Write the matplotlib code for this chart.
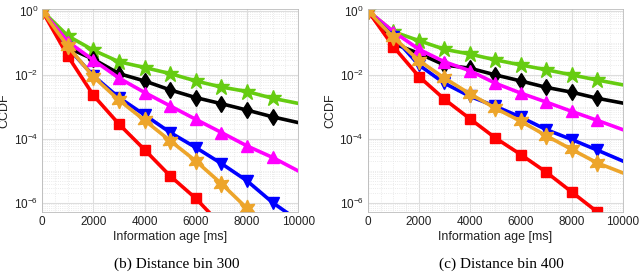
import numpy as np
import matplotlib
matplotlib.use("Agg")
import matplotlib.pyplot as plt
from matplotlib.ticker import FixedLocator, LogLocator, MultipleLocator, NullFormatter

# information age [ms]
age = [0, 1000, 2000, 3000, 4000, 5000, 6000, 7000, 8000, 9000, 10000]

# log10(CCDF), distance bin 300
bin300 = {
    "green": [0, -0.78, -1.23, -1.59, -1.77, -1.96, -2.19, -2.38, -2.52, -2.73, -2.89],
    "black": [0, -1.15, -1.51, -1.96, -2.19, -2.47, -2.71, -2.90, -3.10, -3.31, -3.49],
    "magenta": [0, -0.96, -1.54, -2.10, -2.55, -2.97, -3.39, -3.80, -4.22, -4.58, -5.00],
    "blue": [0, -1.15, -2.03, -2.71, -3.25, -3.80, -4.27, -4.77, -5.31, -5.99, -6.55],
    "orange": [0, -1.11, -2.06, -2.79, -3.42, -4.06, -4.69, -5.40, -6.17, -6.95, -7.7],
    "red": [0, -1.41, -2.64, -3.54, -4.34, -5.16, -5.86, -6.70, -7.5, -8.3, -9.1],
}

# distance bin 400
bin400 = {
    "green": [0, -0.65, -0.93, -1.20, -1.35, -1.53, -1.69, -1.84, -2.00, -2.16, -2.31],
    "black": [0, -1.02, -1.33, -1.69, -1.79, -2.00, -2.19, -2.39, -2.54, -2.73, -2.88],
    "magenta": [0, -0.65, -1.20, -1.59, -1.87, -2.26, -2.57, -2.85, -3.14, -3.42, -3.71],
    "blue": [0, -0.81, -1.69, -2.26, -2.67, -2.98, -3.32, -3.71, -4.02, -4.35, -4.69],
    "orange": [0, -0.83, -1.55, -2.10, -2.59, -3.04, -3.45, -3.90, -4.33, -4.75, -5.06],
    "red": [0, -1.12, -2.05, -2.76, -3.37, -3.97, -4.49, -5.04, -5.66, -6.28, -6.9],
}

captions = ["(b) Distance bin 300", "(c) Distance bin 400"]

styles = {
    "green": dict(color="#66CC11", marker="*", ms=12),
    "black": dict(color="black", marker="d", ms=8),
    "magenta": dict(color="#FF00FF", marker="^", ms=9),
    "blue": dict(color="#0000FF", marker="v", ms=9),
    "orange": dict(color="#EDA52B", marker=(6, 1, 0), ms=12),
    "red": dict(color="#FF0000", marker="s", ms=7),
}
order = ["green", "black", "magenta", "blue", "red", "orange"]

plt.rcParams["font.family"] = "Liberation Sans"

fig = plt.figure(figsize=(6.4, 2.72), dpi=100)
boxes = [[0.066, 0.221, 0.400, 0.746], [0.575, 0.221, 0.398, 0.746]]

for box, data, cap in zip(boxes, [bin300, bin400], captions):
    ax = fig.add_axes(box)
    for key in order:
        st = styles[key]
        ax.plot(age, 10 ** np.array(data[key]), color=st["color"], lw=2.6,
                marker=st["marker"], ms=st["ms"], markevery=slice(0, 10),
                mec=st["color"], mfc=st["color"])
    ax.set_yscale("log")
    ax.set_xlim(0, 10000)
    ax.set_ylim(10 ** -6.28, 10 ** 0.06)
    ax.set_xticks([0, 2000, 4000, 6000, 8000, 10000])
    ax.xaxis.set_minor_locator(MultipleLocator(500))
    ax.yaxis.set_major_locator(FixedLocator([1e-6, 1e-4, 1e-2, 1]))
    ax.yaxis.set_minor_locator(LogLocator(base=10, subs=np.arange(1, 10), numticks=20))
    ax.yaxis.set_minor_formatter(NullFormatter())
    ax.grid(True, which="major", color="#DDDDDD", lw=0.8)
    ax.grid(True, which="minor", color="#E4E4E4", lw=0.6, ls=":")
    ax.tick_params(which="both", length=0, labelsize=8.5, colors="#222222", pad=3)
    for sp in ax.spines.values():
        sp.set_color("#BBBBBB")
        sp.set_linewidth(0.6)
    ax.set_xlabel("Information age [ms]", fontsize=9, labelpad=2, color="#222222")
    ax.set_ylabel("CCDF", fontsize=9, labelpad=2, color="#222222")
    ax.set_axisbelow(True)
    cx = box[0] + box[2] / 2 + 0.01
    fig.text(cx, 0.004, cap, ha="center", va="bottom", fontsize=11,
             family="Liberation Serif")

fig.savefig("out.png", dpi=100)
